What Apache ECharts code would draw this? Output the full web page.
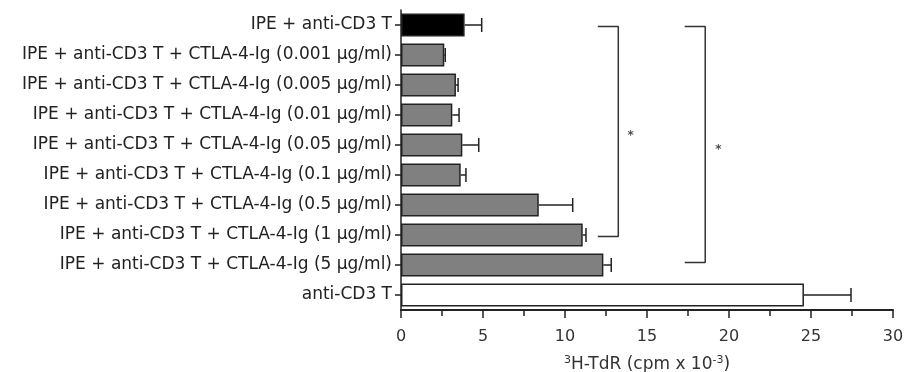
<!DOCTYPE html>
<html>
<head>
<meta charset="utf-8">
<script src="https://cdn.jsdelivr.net/npm/echarts@6/dist/echarts.min.js"></script>
<style>html,body{margin:0;padding:0;background:#fff}#c{width:905px;height:372px}</style>
</head>
<body>
<div id="c"></div>
<script>
const categories = [
  "IPE + anti-CD3 T",
  "IPE + anti-CD3 T + CTLA-4-Ig (0.001 μg/ml)",
  "IPE + anti-CD3 T + CTLA-4-Ig (0.005 μg/ml)",
  "IPE + anti-CD3 T + CTLA-4-Ig (0.01 μg/ml)",
  "IPE + anti-CD3 T + CTLA-4-Ig (0.05 μg/ml)",
  "IPE + anti-CD3 T + CTLA-4-Ig (0.1 μg/ml)",
  "IPE + anti-CD3 T + CTLA-4-Ig (0.5 μg/ml)",
  "IPE + anti-CD3 T + CTLA-4-Ig (1 μg/ml)",
  "IPE + anti-CD3 T + CTLA-4-Ig (5 μg/ml)",
  "anti-CD3 T"
];
const values = [3.88, 2.64, 3.35, 3.13, 3.74, 3.64, 8.40, 11.08, 12.34, 24.57];
const errors = [1.04, 0.06, 0.13, 0.41, 1.00, 0.32, 2.07, 0.20, 0.48, 2.87];
const xTicks = [0, 5, 10, 15, 20, 25, 30];
// significance brackets in data units: [x, categoryPosition]
const bracket1 = [[12.0, 0.05], [13.25, 0.05], [13.25, 7.05], [12.0, 7.05]];
const bracket2 = [[17.3, 0.05], [18.55, 0.05], [18.55, 7.92], [17.3, 7.92]];
const stars = [[14.0, 3.59], [19.35, 4.06]];

const FONT = "DejaVu Sans";
const barColors = i => i === 0 ? '#000000' : (i === categories.length - 1 ? '#ffffff' : '#808080');

const chart = echarts.init(document.getElementById('c'));
chart.setOption({
  animation: false,
  backgroundColor: '#fff',
  grid: { left: 401, right: 12, top: 10, bottom: 62, containLabel: false, outerBoundsMode: 'none' },
  xAxis: {
    type: 'value', min: xTicks[0], max: xTicks[xTicks.length - 1], interval: 5,
    axisLine: { show: true, onZero: false, lineStyle: { color: '#222', width: 2 } },
    axisTick: { show: true, length: 8, lineStyle: { color: '#222', width: 1.5 } },
    minorTick: { show: true, splitNumber: 2, length: 6, lineStyle: { color: '#222', width: 1.5 } },
    splitLine: { show: false },
    axisLabel: { color: '#333', fontFamily: FONT, fontSize: 16, margin: 19 },
    name: '{s|3}H-TdR (cpm x 10{s|-3})',
    nameLocation: 'middle', nameGap: 45,
    nameTextStyle: { color: '#333', fontFamily: FONT, fontSize: 17,
      rich: { s: { fontSize: 11, verticalAlign: 'top', padding: [0,0,8,0], color: '#333', fontFamily: FONT } } }
  },
  yAxis: [{
    type: 'category', data: categories, inverse: true,
    axisLine: { show: true, lineStyle: { color: '#222', width: 1.5 } },
    axisTick: { show: true, length: 6, alignWithLabel: true, lineStyle: { color: '#222', width: 1.5 } },
    axisLabel: { color: '#222', fontFamily: FONT, fontSize: 17, margin: 9 }
  }, {
    type: 'value', min: -0.5, max: 9.5, inverse: true, show: false
  }],
  series: [{
    type: 'bar', barWidth: 23,
    data: values.map((v, i) => ({ value: v, itemStyle: { color: barColors(i), borderColor: '#222', borderWidth: 1.5 } }))
  }, {
    type: 'custom',
    data: values.map((v, i) => [i, v, v + errors[i]]),
    encode: { x: [1, 2], y: 0 },
    renderItem: function (params, api) {
      const a = api.coord([api.value(1), api.value(0)]);
      const b = api.coord([api.value(2), api.value(0)]);
      const h = 7;
      return { type: 'group', children: [
        { type: 'line', shape: { x1: a[0], y1: a[1], x2: b[0], y2: b[1] }, style: { stroke: '#222', lineWidth: 1.5 } },
        { type: 'line', shape: { x1: b[0], y1: b[1] - h, x2: b[0], y2: b[1] + h }, style: { stroke: '#222', lineWidth: 1.5 } }
      ]};
    },
    z: 5
  }, {
    type: 'line', yAxisIndex: 1, data: bracket1, symbol: 'none',
    lineStyle: { color: '#333', width: 1.5 }
  }, {
    type: 'line', yAxisIndex: 1, data: bracket2, symbol: 'none',
    lineStyle: { color: '#333', width: 1.5 }
  }, {
    type: 'scatter', yAxisIndex: 1, data: stars, symbolSize: 0,
    label: { show: true, formatter: '*', position: 'inside', color: '#222', fontSize: 12, fontWeight: 'bold', fontFamily: FONT, offset: [0, 3] }
  }]
});
</script>
</body>
</html>
